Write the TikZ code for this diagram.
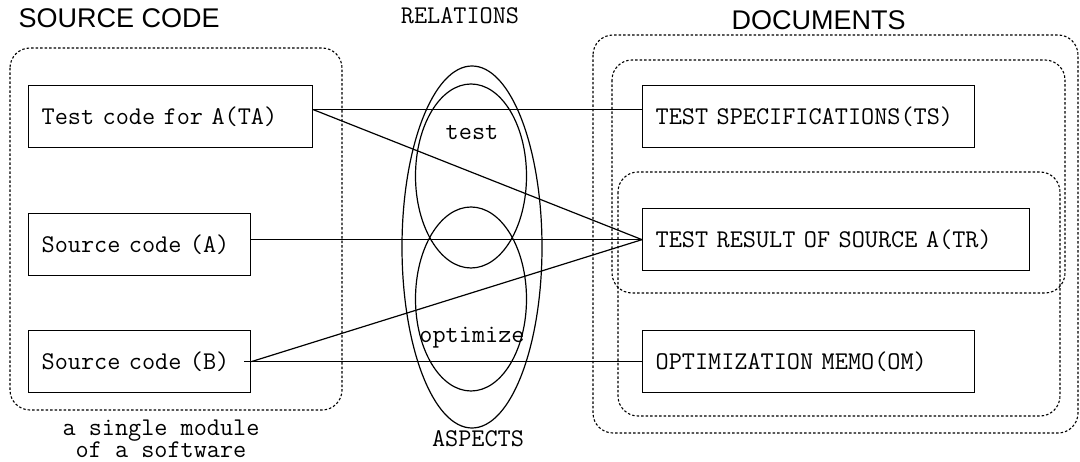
\documentclass[tikz,border=0pt]{standalone}
\usepackage{fontspec}
\setmainfont{Liberation Sans}
\begin{document}
\begin{tikzpicture}[x=1pt,y=-1pt,
  codebox/.style={draw, line width=1.3pt, anchor=north west,
    font=\ttfamily\fontsize{25.5}{28}\selectfont,
    inner xsep=13pt, inner ysep=0pt, align=left,
    minimum height=62pt, text width=#1},
  group/.style={draw, line width=1.1pt, dash pattern=on 2.5pt off 2pt,
    rounded corners=20pt},
  link/.style={line width=1.2pt},
  aspect/.style={line width=1.2pt},
  lbl/.style={font=\ttfamily\fontsize{25.5}{28}\selectfont, anchor=base},
  heading/.style={font=\fontsize{27}{32}\selectfont, anchor=base west}]
\useasboundingbox (0,0) rectangle (1080,462);

% headings
\node[heading] (hsrc) at (15,28) {SOURCE CODE};
\node[heading] (hdoc) at (728,30) {DOCUMENTS};
\node[lbl] (hrel) at (460,24) {RELATIONS};
\node[lbl] (hasp) at (478,447) {ASPECTS};

% module and document groupings
\draw[group] (10,48) rectangle (342,410);
\draw[group] (593,35) rectangle (1078,433);
\draw[group] (612,60) rectangle (1065,293);
\draw[group] (618,172) rectangle (1060,416);

% aspect ellipses
\draw[aspect] (472,247) ellipse [x radius=70, y radius=181];
\draw[aspect] (471,176) ellipse [x radius=55.5, y radius=92];
\draw[aspect] (471,299) ellipse [x radius=55.5, y radius=92];
\node[lbl] (ltest) at (472,140) {test};
\node[lbl] (lopt) at (472,343) {optimize};

% source code units
\node[codebox=258pt] (TA) at (28,85) {Test code for A(TA)};
\node[codebox=196pt] (SA) at (28,213) {Source code (A)};
\node[codebox=196pt] (SB) at (28,330) {Source code (B)};

% documents
\node[codebox=306pt] (TS) at (642,85) {TEST SPECIFICATIONS(TS)};
\node[codebox=361pt] (TR) at (642,208) {TEST RESULT OF SOURCE A(TR)};
\node[codebox=306pt] (OM) at (642,330) {OPTIMIZATION MEMO(OM)};

% module caption
\node[font=\ttfamily\fontsize{25.5}{22}\selectfont, align=center,
  inner sep=0pt, anchor=north] (cap) at (161,420)
  {a single module\\of a software};

% relations
\draw[link] ([yshift=7pt]TA.east) -- ([yshift=7pt]TS.west);
\draw[link] ([yshift=7pt]TA.east) -- (TR.west);
\draw[link] (SA.east |- TR.west) -- (TR.west);
\draw[link] (SB.east) -- (TR.west);
\draw[link] ([xshift=-7pt]SB.east) -- (OM.west);
\end{tikzpicture}
\end{document}
